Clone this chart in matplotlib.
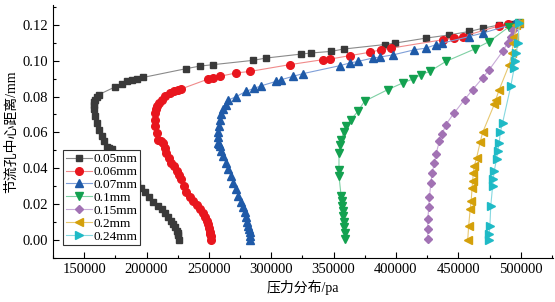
import matplotlib
matplotlib.use('Agg')
import matplotlib.pyplot as plt
from matplotlib.ticker import MultipleLocator

plt.rcParams['font.family'] = ['Liberation Serif', 'Noto Sans CJK SC']
plt.rcParams['axes.unicode_minus'] = False

# pressure (pa) and distance from orifice centre (mm)
p_005 = [226000, 225500, 225000, 224100, 223000, 221500, 219500, 217500, 215000, 212000,
         209000, 205500, 202000, 198800, 195500, 192000, 188500, 185500, 182000, 178800,
         175500, 172000, 170000, 168000, 166000, 164000, 162000, 160000, 158500, 157500,
         157500, 158000, 158800, 160000, 161500, 174800, 180000, 184000, 188000, 192000,
         197500, 232000, 242800, 253500, 285500, 296000, 324000, 332000, 348000, 358000,
         390800, 399000, 424000, 442800, 458800, 469500, 483000, 492000, 499000]
d_005 = [0.0, 0.0025, 0.004, 0.0052, 0.007, 0.0089, 0.0108, 0.0126, 0.015, 0.0172,
         0.019, 0.021, 0.024, 0.0265, 0.029, 0.032, 0.035, 0.0376, 0.0405, 0.043,
         0.047, 0.0505, 0.0512, 0.052, 0.055, 0.058, 0.0615, 0.065, 0.069, 0.0728,
         0.0755, 0.0768, 0.078, 0.0795, 0.081, 0.0854, 0.087, 0.0885, 0.0893, 0.09,
         0.0907, 0.0956, 0.097, 0.0978, 0.1002, 0.1015, 0.1037, 0.1043, 0.1052, 0.1065,
         0.109, 0.1098, 0.1126, 0.1144, 0.1163, 0.1181, 0.12, 0.1206, 0.1208]

p_006 = [251500, 251300, 251000, 250800, 250200, 249500, 248200, 246800, 245000, 242800,
         240200, 237500, 234800, 232000, 230000, 228000, 226000, 224100, 222000, 220000,
         218000, 216000, 214800, 213500, 211500, 209500, 208000, 206800, 206500, 206800,
         207200, 208000, 210000, 212000, 215000, 218800, 222000, 225000, 228000, 249500,
         253000, 258800, 272000, 282800, 314800, 341500, 347000, 362800, 378800, 388000,
         396000, 437500, 446800, 453500, 483000, 489500, 499000]
d_006 = [0.0, 0.002, 0.0032, 0.0043, 0.0066, 0.0089, 0.0108, 0.0126, 0.015, 0.0172,
         0.0195, 0.0218, 0.024, 0.0265, 0.03, 0.0339, 0.036, 0.0385, 0.041, 0.043,
         0.0458, 0.0487, 0.0515, 0.0543, 0.055, 0.056, 0.0598, 0.0635, 0.0672, 0.071,
         0.0728, 0.0746, 0.0765, 0.078, 0.0802, 0.082, 0.0832, 0.0838, 0.0843, 0.0898,
         0.0902, 0.0913, 0.0932, 0.094, 0.0978, 0.1006, 0.1009, 0.1028, 0.1047, 0.1061,
         0.107, 0.1117, 0.1127, 0.1135, 0.1195, 0.1206, 0.1208]

p_007 = [283300, 283000, 282800, 282200, 281500, 280800, 280000, 278800, 277500, 275500,
         273500, 271500, 269500, 267500, 265500, 263500, 261500, 260000, 258800, 258000,
         257500, 257500, 257500, 258000, 258800, 260000, 261500, 263500, 265500, 272000,
         280000, 286000, 292000, 304000, 308000, 317500, 325500, 354800, 362800, 369500,
         381500, 386800, 398000, 414800, 424000, 431800, 437000, 458800, 469500, 494800,
         499000]
d_007 = [0.0, 0.002, 0.0043, 0.0062, 0.008, 0.0103, 0.0126, 0.0154, 0.0182, 0.0214,
         0.0246, 0.0283, 0.032, 0.0357, 0.0394, 0.0431, 0.0468, 0.0496, 0.0524, 0.0534,
         0.0543, 0.0572, 0.06, 0.0636, 0.0672, 0.07, 0.0728, 0.0755, 0.078, 0.08,
         0.083, 0.0845, 0.086, 0.0885, 0.0894, 0.0913, 0.0928, 0.0972, 0.0987, 0.0996,
         0.1015, 0.102, 0.1033, 0.1061, 0.107, 0.1089, 0.1098, 0.1135, 0.1154, 0.1206,
         0.1208]

p_01 = [358800, 358800, 358500, 358200, 357500, 357200, 357000, 356500, 356000, 354300,
        354300, 354300, 355300, 356000, 358000, 360000, 364000, 369500, 374800, 393500,
        405500, 413500, 420000, 427000, 440000, 463000, 474800, 490800, 499000]
d_01 = [0.0006, 0.0038, 0.007, 0.01, 0.0135, 0.0162, 0.019, 0.0218, 0.0246, 0.0357,
        0.039, 0.0487, 0.053, 0.056, 0.06, 0.0635, 0.0672, 0.0718, 0.0774, 0.0839,
        0.0876, 0.0898, 0.0922, 0.094, 0.0996, 0.1065, 0.1107, 0.119, 0.1208]

p_015 = [425500, 425500, 425500, 426300, 426800, 428000, 429000, 430800, 432000, 434800,
         437000, 440000, 446800, 455000, 461500, 469500, 474800, 485500, 489500, 492000,
         493500, 499000]
d_015 = [0.0006, 0.0061, 0.0117, 0.0182, 0.0237, 0.032, 0.0376, 0.0428, 0.0478, 0.055,
         0.0589, 0.0644, 0.071, 0.0783, 0.0839, 0.0904, 0.095, 0.1052, 0.1098, 0.1135,
         0.1172, 0.1208]

p_02 = [457500, 458300, 459500, 460300, 461000, 461500, 462000, 462800, 464700, 467500,
        469500, 478800, 480000, 482800, 490800, 493000, 494000, 495000, 496500, 499000]
d_02 = [0.0, 0.008, 0.0172, 0.0218, 0.029, 0.033, 0.0376, 0.0413, 0.046, 0.0546,
        0.06, 0.0756, 0.0783, 0.0839, 0.0978, 0.1043, 0.1098, 0.1135, 0.12, 0.1208]

p_024 = [474800, 474800, 475300, 476000, 477500, 478000, 478800, 480700, 481500, 482800,
         483600, 485500, 492000, 494800, 495500, 496500, 497500, 499000]
d_024 = [0.0, 0.0033, 0.008, 0.019, 0.0302, 0.034, 0.0385, 0.0454, 0.0496, 0.0543,
         0.06, 0.0654, 0.0857, 0.096, 0.0996, 0.1043, 0.1098, 0.1208]

labels = ['0.05mm', '0.06mm', '0.07mm', '0.1mm', '0.15mm', '0.2mm', '0.24mm']
markers = ['s', 'o', '^', 'v', 'D', '<', '>']
mcolors = ['#3a3a3a', '#e8161e', '#1f5aa8', '#13a150', '#a272b4', '#d4a00a', '#1fbac6']
lcolors = ['#8a8a8a', '#f08a8a', '#7f9fd8', '#7fd0a4', '#c8aad8', '#e8c870', '#86d8e0']
msizes = [5, 5.5, 5.5, 5.5, 4.5, 5.5, 5.5]

series = [(p_005, d_005), (p_006, d_006), (p_007, d_007), (p_01, d_01),
          (p_015, d_015), (p_02, d_02), (p_024, d_024)]

fig = plt.figure(figsize=(5.55, 3.02), dpi=100)
ax = fig.add_axes([0.0955, 0.146, 0.9, 0.837])

for i in range(len(series)):
    ax.plot(series[i][0], series[i][1], color=lcolors[i], lw=0.8,
            marker=markers[i], markersize=msizes[i], markerfacecolor=mcolors[i],
            markeredgecolor=mcolors[i], label=labels[i])

ax.set_xlim(125000, 525500)
ax.set_ylim(-0.01, 0.131)
ax.xaxis.set_major_locator(MultipleLocator(50000))
ax.xaxis.set_minor_locator(MultipleLocator(25000))
ax.yaxis.set_major_locator(MultipleLocator(0.02))
ax.yaxis.set_minor_locator(MultipleLocator(0.01))
ax.yaxis.set_major_formatter(plt.FormatStrFormatter('%.2f'))
ax.tick_params(which='major', direction='in', length=4, width=0.8, labelsize=10.5)
ax.tick_params(which='minor', direction='in', length=2.5, width=0.8)
ax.spines['top'].set_visible(False)
ax.spines['right'].set_visible(False)

ax.set_xlabel('压力分布/pa', fontsize=10, labelpad=3)
ax.set_ylabel('节流孔中心距离/mm', fontsize=10, labelpad=3)

leg = ax.legend(loc='lower left', bbox_to_anchor=(0.02, 0.05), borderaxespad=0,
                fontsize=9.5, handlelength=2.0, labelspacing=0.05, borderpad=0.2,
                handletextpad=0.1, fancybox=False, framealpha=1)
leg.get_frame().set_edgecolor('#333333')
leg.get_frame().set_linewidth(0.8)

fig.savefig('out.png', dpi=100)
